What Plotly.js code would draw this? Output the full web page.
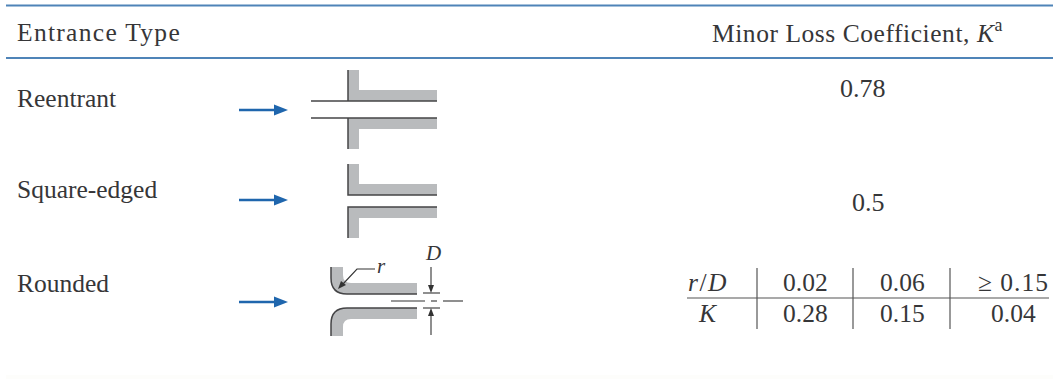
<!DOCTYPE html>
<html><head><meta charset="utf-8"><script src="https://cdn.plot.ly/plotly-3.0.1.min.js"></script>
<style>html,body{margin:0;padding:0;background:#fff;overflow:hidden}#c{width:1053px;height:379px}</style></head><body><div id="c"></div>
<script>
const SERIF = '"Liberation Serif", serif';
const INK = '#363638', GRAY = '#b9bbbd', BLUE = '#1f66ad', RULE = '#4f84b8', STROKE = '#444446';
// table text
const headerLeft = 'Entrance Type';
const headerRight = 'Minor Loss Coefficient, <i>K</i><sup>a</sup>';
const entranceTypes = ['Reentrant', 'Square-edged', 'Rounded'];
const entranceBase = [107, 198, 292];
const lossCoefficients = ['0.78', '0.5'];
const lossX = [863, 868];
const lossBase = [97, 211];
const ratioHeader = ['<i>r</i>/<i>D</i>', '0.02', '0.06', '≥ 0.15'];
const ratioK = ['<i>K</i>', '0.28', '0.15', '0.04'];
const tableColX = [708, 805, 902, 1013];
// diagram outlines
const reTopGray = [[348,359,359,437,437,348],[70,70,90,90,101,101]];
const reBotGray = [[348,437,437,359,359,348],[118,118,129,129,149,149]];
const reLines = [[348,348,null,311,437,null,311,437,null,348,348],[70,101,null,101,101,null,118,118,null,118,149]];
const sqTopGray = [[348,359,359,437,437,348],[164,164,184,184,195,195]];
const sqBotGray = [[348,437,437,359,359,348],[207,207,218,218,238,238]];
const sqLines = [[348,348,437,null,437,348,348],[164,195,195,null,207,207,238]];
const flowArrowX = [239, 276];
const flowArrowY = [110, 200, 302];
const dimLines = [[423,440,null,423,440,null,391,425,null,431,437,null,443,463,null,431,431,null,431,431],
                  [293,293,null,308,308,null,301,301,null,301,301,null,301,301,null,267,285,null,316,335]];
const leader = [[375,357,343],[269,269,284]];
const tableLines = [[687,1049,null,757,757,null,853,853,null,950,950],[298,298,null,268,329,null,268,329,null,268,329]];

const poly = (p,c)=>({x:p[0],y:p[1],mode:'lines',fill:'toself',fillcolor:c,line:{width:0,color:c},hoverinfo:'skip'});
const line = (p,c,w)=>({x:p[0],y:p[1],mode:'lines',line:{color:c,width:w},hoverinfo:'skip'});
const traces = [poly(reTopGray,GRAY),poly(reBotGray,GRAY),line(reLines,STROKE,1.5),
  poly(sqTopGray,GRAY),poly(sqBotGray,GRAY),line(sqLines,STROKE,1.5),
  line(dimLines,'#333',1.1),line(leader,'#333',1.1),line(tableLines,'#555',1.2),
  line([[6,1053],[5.5,5.5]],RULE,2.2),line([[6,1053],[58,58]],RULE,2.2)];
flowArrowY.forEach(y=>{
  traces.push(line([flowArrowX,[y,y]],BLUE,2.6));
  traces.push(poly([[274,288,274],[y-5.5,y,y+5.5]],BLUE));
});
// small dimension and leader arrow heads
traces.push(poly([[428,434,431],[285,285,293]],'#333'));
traces.push(poly([[428,434,431],[316,316,308]],'#333'));
traces.push(poly([[346,341,338],[285,281,289]],'#333'));

const shapes = [
  {type:'path',layer:'below',xref:'x',yref:'y',path:'M331,267 L343,267 L343,275 Q343,283 351,283 L417,283 L417,294 L347,294 Q331,294 331,278 Z',fillcolor:GRAY,line:{width:0}},
  {type:'path',layer:'below',xref:'x',yref:'y',path:'M331,336 L343,336 L343,327 Q343,319 351,319 L417,319 L417,308 L347,308 Q331,308 331,324 Z',fillcolor:GRAY,line:{width:0}},
  {type:'path',layer:'above',xref:'x',yref:'y',path:'M331,267 L331,278 Q331,294 347,294 L417,294',line:{color:STROKE,width:1.5}},
  {type:'path',layer:'above',xref:'x',yref:'y',path:'M331,336 L331,324 Q331,308 347,308 L417,308',line:{color:STROKE,width:1.5}},
  {type:'rect',layer:'below',xref:'x',yref:'y',x0:6,x1:1053,y0:375,y1:379,fillcolor:'#fdfdfb',line:{width:0}}
];
// y is the text baseline; the annotation box is centred about 8px above it
const txt=(x,y,text,size,anchor,spacing)=>({x,y:y-8.5,text:spacing?`<span style="letter-spacing:${spacing}px">${text}</span>`:text,xref:'x',yref:'y',showarrow:false,borderpad:0,borderwidth:0,xanchor:anchor||'center',yanchor:'middle',font:{family:SERIF,size:size||25.5,color:INK}});
const annotations=[
  txt(17,41,headerLeft,25.5,'left',1.3),
  txt(712,40,headerRight,25.5,'left',0.55),
  txt(433,261,'<i>D</i>',21),txt(381,274,'<i>r</i>',21)
];
entranceTypes.forEach((t,i)=>annotations.push(txt(17,entranceBase[i],t,25.5,'left')));
lossCoefficients.forEach((t,i)=>annotations.push(txt(lossX[i],lossBase[i],t,26)));
ratioHeader.forEach((t,i)=>annotations.push(txt(tableColX[i],291,t,25.5,'center',i===3?1:(i===0?1.5:0))));
ratioK.forEach((t,i)=>annotations.push(txt(tableColX[i],322,t,25.5)));

const axis=r=>({range:r,visible:false,fixedrange:true,showgrid:false,zeroline:false});
Plotly.newPlot('c',traces,{width:1053,height:379,margin:{l:0,r:0,t:0,b:0},showlegend:false,
  paper_bgcolor:'#fff',plot_bgcolor:'rgba(0,0,0,0)',xaxis:axis([0,1053]),yaxis:axis([379,0]),shapes,annotations},{displayModeBar:false,staticPlot:true});
</script></body></html>
